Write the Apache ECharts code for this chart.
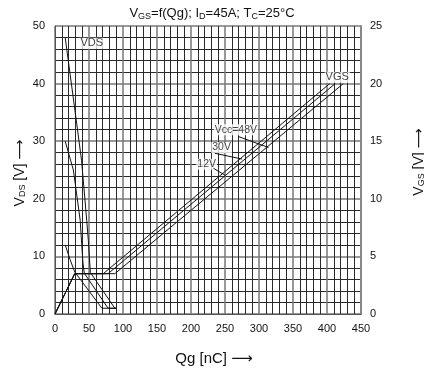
<!DOCTYPE html>
<html><head><meta charset="utf-8">
<script src="https://cdn.jsdelivr.net/npm/echarts@6/dist/echarts.min.js"></script>
<style>html,body{margin:0;padding:0;background:#fff}#c{width:424px;height:374px}</style>
</head><body><div id="c"></div>
<script>
// V_DS curves (Qg [nC], V_DS [V]) for Vcc = 12 V, 30 V, 48 V
const vds12 = [[15,12],[22,9.5],[29,7.3],[69,1],[90,1]];
const vds30 = [[15,30],[27,25],[37,16.3],[41,9],[43,7.1],[78,1],[90,1]];
const vds48 = [[15,48],[32,33],[39,26.7],[46.6,16.3],[49,12.8],[52,7.2],[88,1],[90,1]];
// V_GS curves (Qg [nC], V_GS [V])
const vgs12 = [[0,0],[29,3.5],[71,3.5],[404,20]];
const vgs30 = [[0,0],[29,3.5],[78,3.5],[412,20]];
const vgs48 = [[0,0],[29,3.5],[88,3.5],[424,20]];
// annotations (Qg, V_DS scale)
const labels = [
  {name:'VDS', value:[54,47], size:11},
  {name:'VGS', value:[415,41.1], size:11},
  {name:'Vcc=48V', value:[266,32], size:10.5},
  {name:'30V', value:[245,28.9], size:10.5},
  {name:'12V', value:[223,26], size:10.5}
];
const leaders = [
  [[270,30.8],[314,28.9]],
  [[235,27.9],[275,26.9]],
  [[233,25.3],[250,24.1]]
];

const font = 'Liberation Sans, Arial, DejaVu Sans, sans-serif';
const chart = echarts.init(document.getElementById('c'));
const lineStyle = {color:'#111', width:1};
const mk = (data, yi) => ({type:'line', data, yAxisIndex:yi, symbol:'none', lineStyle, silent:true, animation:false});
const series = [
  mk(vds12,0), mk(vds30,0), mk(vds48,0),
  mk(vgs12,1), mk(vgs30,1), mk(vgs48,1)
];
leaders.forEach(l => series.push(mk(l,0)));
series.push({
  type:'scatter', yAxisIndex:0, symbolSize:0, silent:true, animation:false,
  data:labels.map(l => ({name:l.name, value:l.value, label:{fontSize:l.size}})),
  label:{show:true, position:'inside', formatter:p=>p.name, color:'#111', fontFamily:font,
    backgroundColor:'#fff', padding:[0,1]}
});

chart.setOption({
  animation:false,
  title:{
    text:'V{s|GS}=f(Qg); I{s|D}=45A; T{s|C}=25°C', left:'center', top:1,
    textStyle:{fontSize:13, fontWeight:'normal', color:'#111', fontFamily:font,
      rich:{s:{fontSize:9, verticalAlign:'bottom', padding:[6,0,0,0], fontFamily:font, color:'#111'}}}
  },
  grid:{left:55, right:63, top:26, bottom:60},
  xAxis:{
    type:'value', min:0, max:450, interval:50,
    axisLine:{show:true, lineStyle:{color:'#555', width:1}},
    axisTick:{show:false},
    axisLabel:{color:'#111', fontSize:11, fontFamily:font, margin:9},
    splitLine:{show:true, lineStyle:{color:'#777', width:1.5}},
    minorTick:{show:false, splitNumber:5},
    minorSplitLine:{show:true, lineStyle:{color:'#2a2a2a', width:1}}
  },
  yAxis:[{
    type:'value', min:0, max:50, interval:10,
    axisLine:{show:true, lineStyle:{color:'#555'}},
    axisTick:{show:false},
    axisLabel:{color:'#111', fontSize:11, fontFamily:font, margin:10},
    splitLine:{show:true, lineStyle:{color:'#777', width:1.5}},
    minorTick:{show:false, splitNumber:5},
    minorSplitLine:{show:true, lineStyle:{color:'#2a2a2a', width:1}}
  },{
    type:'value', min:0, max:25, interval:5, position:'right',
    axisLine:{show:true, lineStyle:{color:'#888', width:2}},
    axisTick:{show:false},
    axisLabel:{color:'#111', fontSize:11, fontFamily:font, margin:9},
    splitLine:{show:false}
  }],
  graphic:[
    {type:'text', x:20, y:173, rotation:Math.PI/2, style:{
      text:'V{s|DS} [V] ⟶', fill:'#111', font:'14px '+font, align:'center', verticalAlign:'middle',
      rich:{s:{fontSize:9, fill:'#111', verticalAlign:'bottom', padding:[6,0,0,0]}}}},
    {type:'text', x:419, y:162, rotation:Math.PI/2, style:{
      text:'V{s|GS} [V] ⟶', fill:'#111', font:'14px '+font, align:'center', verticalAlign:'middle',
      rich:{s:{fontSize:9, fill:'#111', verticalAlign:'bottom', padding:[6,0,0,0]}}}},
    {type:'text', x:214, y:359, style:{
      text:'Qg [nC] ⟶', fill:'#111', font:'15px '+font, align:'center', verticalAlign:'middle'}}
  ],
  series
});
</script></body></html>
